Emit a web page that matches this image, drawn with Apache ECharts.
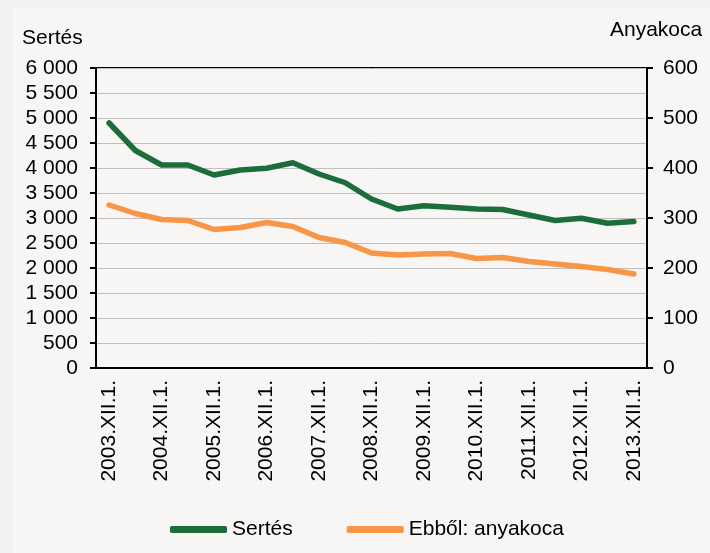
<!DOCTYPE html>
<html>
<head>
<meta charset="utf-8">
<script src="https://cdn.jsdelivr.net/npm/echarts@6/dist/echarts.min.js"></script>
<style>
html,body{margin:0;padding:0;background:#f2f1ef;}
#c{width:710px;height:553px;}
</style>
</head>
<body>
<div id="c"></div>
<script>
const categories = [
  "2003.XII.1.","2004.VI.1.","2004.XII.1.","2005.VI.1.","2005.XII.1.","2006.VI.1.",
  "2006.XII.1.","2007.VI.1.","2007.XII.1.","2008.VI.1.","2008.XII.1.","2009.VI.1.",
  "2009.XII.1.","2010.VI.1.","2010.XII.1.","2011.VI.1.","2011.XII.1.","2012.VI.1.",
  "2012.XII.1.","2013.VI.1.","2013.XII.1."
];
const sertes = [4900,4350,4060,4060,3860,3960,3995,4105,3880,3705,3380,3180,3245,3215,3180,3170,3060,2950,2995,2895,2930];
const anyakoca = [326,309,297,295,277,281,291,283,261,251,230,226,228,229,219,221,213,208,203,197,188];
const leftTicks = {min:0, max:6000, interval:500};
const rightTicks = {min:0, max:600, interval:100};
const seriesNames = ["Sertés","Ebből: anyakoca"];
const axisNames = ["Sertés","Anyakoca"];

const FONT = "Liberation Sans, Arial, sans-serif";
const FS = 21;
const fmt = v => {
  const s = String(Math.round(v));
  return s.length > 3 ? s.slice(0, s.length-3) + " " + s.slice(-3) : s;
};
const chart = echarts.init(document.getElementById('c'), null, {renderer:'canvas'});
chart.setOption({
  backgroundColor: '#f2f1ef',
  animation: false,
  textStyle: {fontFamily: FONT},
  graphic: [
    {type:'rect', left:13, top:8, shape:{width:697, height:545}, style:{fill:'#f7f6f4'}, z:-10},
    {type:'text', x:22, y:38, style:{text:axisNames[0], font:FS + 'px ' + FONT, fill:'#000', verticalAlign:'middle', align:'left'}},
    {type:'text', x:610, y:30, style:{text:axisNames[1], font:FS + 'px ' + FONT, fill:'#000', verticalAlign:'middle', align:'left'}}
  ],
  grid: {left:96, right:63, top:68, bottom:185, show:true, borderColor:'#000', borderWidth:2, backgroundColor:'transparent'},
  legend: {
    left: 165, top: 514,
    icon: 'roundRect', itemWidth: 57, itemHeight: 7, itemGap: 54,
    textStyle: {fontSize: FS, color:'#000', fontFamily: FONT},
    data: seriesNames
  },
  xAxis: {
    type: 'category', data: categories, boundaryGap: true,
    axisLine: {lineStyle:{color:'#000', width:2}},
    axisTick: {interval:0, length:6, lineStyle:{color:'#000', width:2}},
    axisLabel: {interval:1, rotate:90, margin:12, fontSize:FS, color:'#000', fontFamily: FONT},
    splitLine: {show:false}
  },
  yAxis: [
    {
      type:'value', position:'left', min:leftTicks.min, max:leftTicks.max, interval:leftTicks.interval,
      axisLine:{show:true, lineStyle:{color:'#000', width:2}},
      axisTick:{show:true, length:6, lineStyle:{color:'#000', width:2}},
      axisLabel:{formatter: fmt, fontSize:FS, color:'#000', margin:18, fontFamily: FONT},
      splitLine:{show:true, lineStyle:{color:'#bfbfbf', width:1}}
    },
    {
      type:'value', position:'right', min:rightTicks.min, max:rightTicks.max, interval:rightTicks.interval,
      axisLine:{show:true, lineStyle:{color:'#000', width:2}},
      axisTick:{show:true, length:6, lineStyle:{color:'#000', width:2}},
      axisLabel:{formatter: fmt, fontSize:FS, color:'#000', margin:16, fontFamily: FONT},
      splitLine:{show:false}
    }
  ],
  series: [
    {name: seriesNames[0], type:'line', yAxisIndex:0, data: sertes, showSymbol:false, symbol:'none',
     itemStyle:{color:'#1b6e3a'}, lineStyle:{color:'#1b6e3a', width:5.5, cap:'round', join:'round'}, z:3},
    {name: seriesNames[1], type:'line', yAxisIndex:1, data: anyakoca, showSymbol:false, symbol:'none',
     itemStyle:{color:'#f79646'}, lineStyle:{color:'#f79646', width:5.5, cap:'round', join:'round'}, z:2}
  ]
});
</script>
</body>
</html>
